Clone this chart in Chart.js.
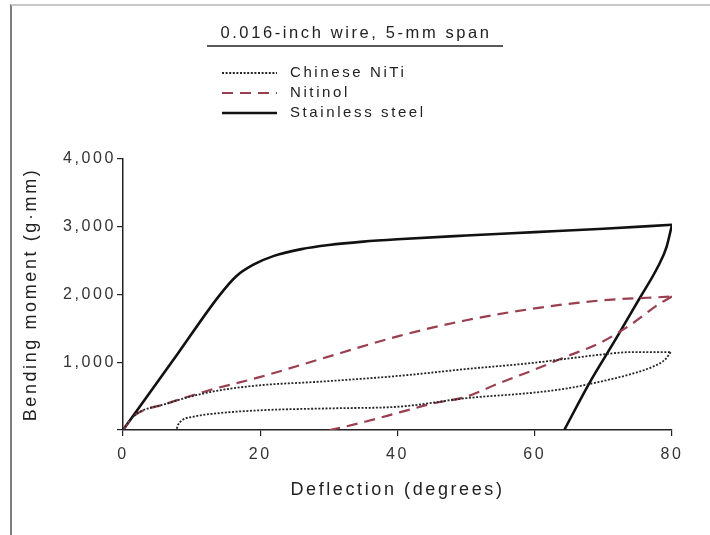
<!DOCTYPE html>
<html>
<head>
<meta charset="utf-8">
<script src="https://cdn.jsdelivr.net/npm/chart.js@4.4.1/dist/chart.umd.min.js"></script>
<style>
  html, body { margin: 0; padding: 0; background: #fff; }
  #wrap { position: relative; width: 710px; height: 535px; }
  #frame {
    position: absolute; left: 10px; top: 4px; right: 0; bottom: 0;
    border-left: 2px solid #7c7c7c; border-top: 2px solid #c8c8c8;
    pointer-events: none;
  }
</style>
</head>
<body>
<div id="wrap">
  <canvas id="bendChart" width="710" height="535"></canvas>
  <div id="frame"></div>
</div>
<script>
// Bending moment vs deflection, loading and unloading branches per wire
const seriesNames = ['Chinese NiTi', 'Nitinol', 'Stainless steel'];
const chartTitle = '0.016-inch wire, 5-mm span';
const xTicks = [0, 20, 40, 60, 80];
const yTicks = [0, 1000, 2000, 3000, 4000];

const chineseLoadDeg    = [0, 1.5, 6.4, 12.7, 19.9, 28.2, 40.3, 50, 59.7, 64.5, 69.4, 74.2, 79.8];
const chineseLoadMoment = [0, 200, 390, 560, 660, 710, 800, 900, 990, 1050, 1110, 1150, 1150];
const chineseUnloadDeg    = [79.8, 79.1, 77.1, 74.2, 69.4, 64.5, 59.7, 50, 40.3, 30.6, 20.9, 13.6, 10.2, 8, 7.8];
const chineseUnloadMoment = [1150, 1050, 930, 830, 710, 610, 550, 470, 345, 320, 295, 245, 195, 75, 0];

const nitinolLoadDeg    = [0, 1.5, 6.4, 12.7, 19.9, 28.2, 40.3, 50, 59.7, 69.4, 80];
const nitinolLoadMoment = [0, 200, 390, 590, 780, 1030, 1390, 1620, 1790, 1910, 1970];
const nitinolUnloadDeg    = [80, 78.1, 74.2, 69.4, 64.5, 59.7, 54.8, 50, 45.1, 40.3, 35.4, 30.6, 30.1];
const nitinolUnloadMoment = [1970, 1860, 1570, 1280, 1080, 880, 690, 490, 390, 260, 125, 10, 0];

const steelLoadDeg    = [0, 8, 14, 16.5, 19, 22, 26, 30, 35, 40, 50, 60, 70, 80];
const steelLoadMoment = [0, 1130, 1980, 2270, 2440, 2570, 2670, 2730, 2780, 2815, 2870, 2920, 2970, 3030];
const steelUnloadDeg    = [80, 79.2, 78, 75.2, 71.8, 68, 64.3];
const steelUnloadMoment = [3030, 2700, 2420, 1930, 1340, 700, 0];

const toPoints = (xs, ys) => xs.map((x, i) => ({ x: x, y: ys[i] }));

const styles = {
    chinese: { borderColor: '#262626', borderWidth: 1.8, borderDash: [2, 1.6] },
    nitinol: { borderColor: '#9a3f4f', borderWidth: 2.2, borderDash: [11, 7] },
    steel:   { borderColor: '#111111', borderWidth: 2.6, borderDash: [] }
};

const makeSet = (label, pts, style, inLegend) => ({
    label: label,
    data: pts,
    showLine: true,
    pointRadius: 0,
    fill: false,
    cubicInterpolationMode: 'monotone',
    inLegend: inLegend,
    ...style
});

const datasets = [
    makeSet(seriesNames[0], toPoints(chineseLoadDeg, chineseLoadMoment), styles.chinese, true),
    makeSet(seriesNames[0], toPoints(chineseUnloadDeg, chineseUnloadMoment), styles.chinese, false),
    makeSet(seriesNames[1], toPoints(nitinolLoadDeg, nitinolLoadMoment), styles.nitinol, true),
    makeSet(seriesNames[1], toPoints(nitinolUnloadDeg, nitinolUnloadMoment), styles.nitinol, false),
    makeSet(seriesNames[2], toPoints(steelLoadDeg, steelLoadMoment), styles.steel, true),
    makeSet(seriesNames[2], toPoints(steelUnloadDeg, steelUnloadMoment), styles.steel, false)
];

const FONT = '"Liberation Sans", Arial, sans-serif';

// wide tracking on every label, like the old typeset figure
const spacedText = {
    id: 'spacedText',
    beforeDraw(chart) { chart.ctx.letterSpacing = '2.6px'; }
};

// stacked legend with an underlined heading, drawn above the plot
const headerLegend = {
    id: 'headerLegend',
    afterDraw(chart) {
        const ctx = chart.ctx;
        ctx.save();
        ctx.fillStyle = '#222';
        ctx.font = '16.5px ' + FONT;
        ctx.textAlign = 'center';
        ctx.textBaseline = 'middle';
        ctx.fillText(chartTitle, 356, 33);

        ctx.strokeStyle = '#222';
        ctx.lineWidth = 1.5;
        ctx.beginPath();
        ctx.moveTo(207, 46);
        ctx.lineTo(503, 46);
        ctx.stroke();

        const rows = chart.data.datasets.filter(d => d.inLegend);
        ctx.font = '15px ' + FONT;
        ctx.textAlign = 'left';
        rows.forEach((ds, i) => {
            const y = 73 + i * 20;
            ctx.strokeStyle = ds.borderColor;
            ctx.lineWidth = ds.borderWidth;
            ctx.setLineDash(ds.borderDash);
            ctx.beginPath();
            ctx.moveTo(222, y);
            ctx.lineTo(277, y);
            ctx.stroke();
            ctx.setLineDash([]);
            ctx.fillStyle = '#222';
            ctx.fillText(ds.label, 290, y);
        });
        ctx.restore();
    }
};

new Chart(document.getElementById('bendChart'), {
    type: 'scatter',
    data: { datasets: datasets },
    plugins: [spacedText, headerLegend],
    options: {
        responsive: false,
        animation: false,
        layout: { padding: { top: 159, left: 20, right: 38, bottom: 34 } },
        plugins: {
            legend: { display: false },
            tooltip: { enabled: false }
        },
        scales: {
            x: {
                type: 'linear',
                min: xTicks[0],
                max: xTicks[xTicks.length - 1],
                afterBuildTicks: (scale) => { scale.ticks = xTicks.map(v => ({ value: v })); },
                afterFit: (scale) => { scale.height = 71; },
                border: { color: '#222', width: 1.5 },
                grid: { drawOnChartArea: false, tickLength: 6, color: '#222', lineWidth: 1.2 },
                ticks: { color: '#333', font: { family: FONT, size: 16 }, padding: 9, maxRotation: 0 },
                title: {
                    display: true,
                    text: 'Deflection (degrees)',
                    color: '#222',
                    font: { family: FONT, size: 18 },
                    padding: { top: 4, bottom: 0 }
                }
            },
            y: {
                type: 'linear',
                min: yTicks[0],
                max: yTicks[yTicks.length - 1],
                afterBuildTicks: (scale) => { scale.ticks = yTicks.map(v => ({ value: v })); },
                afterFit: (scale) => { scale.width = 103; },
                border: { color: '#222', width: 1.5 },
                grid: { drawOnChartArea: false, tickLength: 6, color: '#222', lineWidth: 1.2 },
                ticks: {
                    color: '#333',
                    font: { family: FONT, size: 16 },
                    padding: 1,
                    callback: (v) => v === 0 ? '' : v.toLocaleString('en-US')
                },
                title: {
                    display: true,
                    text: 'Bending moment (g·mm)',
                    color: '#222',
                    font: { family: FONT, size: 18 },
                    padding: { top: 0, bottom: 8 }
                }
            }
        }
    }
});
</script>
</body>
</html>
